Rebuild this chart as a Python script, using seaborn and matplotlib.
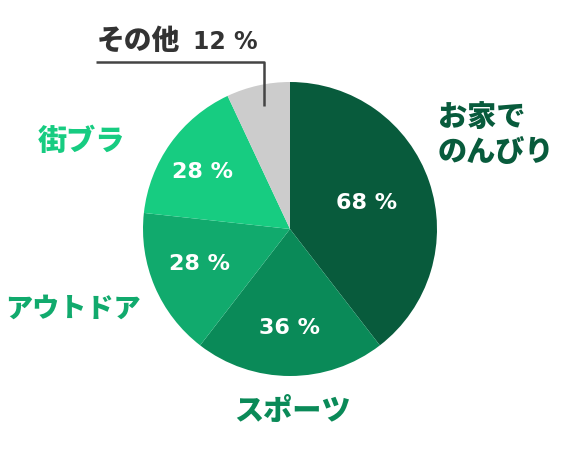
import matplotlib
matplotlib.use("Agg")
import matplotlib.pyplot as plt
import seaborn as sns

# Share of answers per category (percent, multiple answers allowed)
categories = ["お家で\nのんびり", "スポーツ", "アウトドア", "街ブラ", "その他"]
values = [68, 36, 28, 28, 12]
value_labels = ["68%", "36%", "28%", "28%", "12%"]
colors = ["#085b3c", "#0a8a58", "#11aa6d", "#17cc81", "#cccccc"]

sns.set_theme(style="white")
plt.rcParams["font.family"] = ["Noto Sans CJK JP", "DejaVu Sans"]
NUM_FONT = ["DejaVu Sans"]

W, H = 580, 460
fig = plt.figure(figsize=(W / 100, H / 100), dpi=100)
ax = fig.add_axes([0, 0, 1, 1])

cx, cy, r = 290, H - 230, 147
ax.pie(values, colors=colors, startangle=90, counterclock=False,
       center=(cx, cy), radius=r, frame=True,
       wedgeprops=dict(linewidth=0))
ax.set_xlim(0, W)
ax.set_ylim(0, H)
ax.axis("off")


def pct(txt):
    return txt.replace("%", " %")


# Percent labels inside the slices
inner_pos = [(367, 203), (289, 328), (199, 264), (202, 172)]
for (x, y), txt in zip(inner_pos, value_labels[:4]):
    ax.text(x, H - y, pct(txt), color="white", fontsize=16,
            fontweight="bold", family=NUM_FONT, ha="center", va="center")

# Category labels, coloured like their slices
ax.text(438, H - 135, categories[0], color=colors[0], fontsize=21,
        fontweight="black", ha="left", va="center", linespacing=1.25)
ax.text(292, H - 411, categories[1], color=colors[1], fontsize=21,
        fontweight="black", ha="center", va="center")
ax.text(5, H - 308, categories[2], color=colors[2], fontsize=19.5,
        fontweight="black", ha="left", va="center")
ax.text(81, H - 141, categories[3], color=colors[3], fontsize=21,
        fontweight="black", ha="center", va="center")

# "Other" label with a leader line down into its slice
ax.text(97, H - 41, categories[4], color="#333333", fontsize=20,
        fontweight="black", ha="left", va="center")
ax.text(258, H - 42, pct(value_labels[4]), color="#333333",
        fontsize=17, fontweight="bold", family=NUM_FONT, ha="right", va="center")
ax.plot([96, 264, 264], [H - 63, H - 63, H - 107], color="#444444",
        linewidth=1.8, solid_capstyle="butt")

fig.savefig("out.png", dpi=100)
